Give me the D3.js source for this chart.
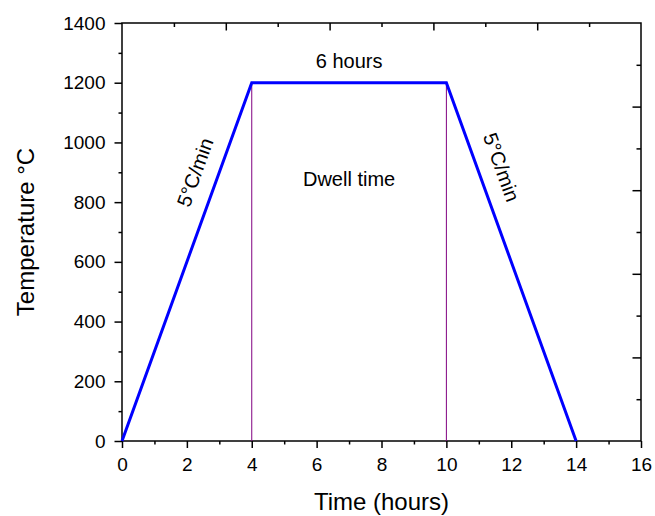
<!DOCTYPE html>
<html>
<head>
<meta charset="utf-8">
<script src="https://cdn.jsdelivr.net/npm/d3@7"></script>
<style>
  html, body { margin: 0; padding: 0; background: #fff; }
  svg { display: block; font-family: Arial, "Liberation Sans", sans-serif; }
</style>
</head>
<body>
<svg id="chart" width="655" height="516"></svg>
<script>
// Firing profile: ramp up, dwell, ramp down
const timeHours = [0, 4, 10, 14];
const temperatureC = [0, 1200, 1200, 0];
const dwellMarkers = [4, 10];
const xTicks = [0, 2, 4, 6, 8, 10, 12, 14, 16];
const yTicks = [0, 200, 400, 600, 800, 1000, 1200, 1400];

const margin = { left: 122, top: 23, right: 14, bottom: 75 };
const W = 655, H = 516;
const FONT = "Arial, 'Liberation Sans', sans-serif";
const svg = d3.select("#chart");

const x = d3.scaleLinear().domain([0, 16]).range([margin.left, W - margin.right]);
const y = d3.scaleLinear().domain([0, 1400]).range([H - margin.bottom, margin.top]);

const x0 = x.range()[0], x1 = x.range()[1];
const y0 = y.range()[0], y1 = y.range()[1];

// Bottom axis: major + minor ticks outward
svg.append("g").attr("transform", `translate(0,${y0})`)
  .call(d3.axisBottom(x).tickValues(d3.range(1, 16, 2)).tickSize(3.5).tickFormat(""))
  .call(g => g.select(".domain").remove());
const bottomMajor = svg.append("g").attr("transform", `translate(0,${y0})`)
  .call(d3.axisBottom(x).tickValues(xTicks).tickSize(7).tickPadding(10).tickFormat(d3.format("d")));
bottomMajor.select(".domain").remove();
bottomMajor.selectAll("text").attr("font-size", 19).attr("fill", "#000").attr("font-family", FONT);

// Left axis
svg.append("g").attr("transform", `translate(${x0},0)`)
  .call(d3.axisLeft(y).tickValues(d3.range(100, 1400, 200)).tickSize(3.5).tickFormat(""))
  .call(g => g.select(".domain").remove());
const leftMajor = svg.append("g").attr("transform", `translate(${x0},0)`)
  .call(d3.axisLeft(y).tickValues(yTicks).tickSize(7.5).tickPadding(9).tickFormat(d3.format("d")));
leftMajor.select(".domain").remove();
leftMajor.selectAll("text").attr("font-size", 19).attr("fill", "#000").attr("font-family", FONT);

// Top and right mirror axes with inward ticks (ten divisions each)
const topScale = d3.scaleLinear().domain([0, 10]).range([x0, x1]);
const rightScale = d3.scaleLinear().domain([0, 10]).range([y0, y1]);
svg.append("g").attr("transform", `translate(0,${y1})`)
  .call(d3.axisBottom(topScale).tickValues(d3.range(1, 10)).tickSizeInner(0).tickSizeOuter(0).tickFormat(""))
  .call(g => g.select(".domain").remove())
  .selectAll(".tick line").attr("y2", d => d % 2 === 0 ? 7.5 : 4);
svg.append("g").attr("transform", `translate(${x1},0)`)
  .call(d3.axisLeft(rightScale).tickValues(d3.range(1, 10)).tickSizeInner(0).tickSizeOuter(0).tickFormat(""))
  .call(g => g.select(".domain").remove())
  .selectAll(".tick line").attr("x2", d => d % 2 === 0 ? -8.5 : -4.5);

svg.selectAll(".tick line").attr("stroke", "#000").attr("stroke-width", 1.5);

// Frame
svg.append("rect")
  .attr("x", x0).attr("y", y1).attr("width", x1 - x0).attr("height", y0 - y1)
  .attr("fill", "none").attr("stroke", "#000").attr("stroke-width", 1.5);

// Dwell boundary markers
svg.selectAll("line.marker").data(dwellMarkers).join("line")
  .attr("class", "marker")
  .attr("x1", d => x(d)).attr("x2", d => x(d))
  .attr("y1", y(1200)).attr("y2", y(0))
  .attr("stroke", "#800080").attr("stroke-width", 1);

// Temperature profile
const line = d3.line().x((d, i) => x(timeHours[i])).y(d => y(d));
svg.append("path").datum(temperatureC)
  .attr("d", line)
  .attr("fill", "none").attr("stroke", "#0000FF").attr("stroke-width", 3)
  .attr("stroke-linejoin", "miter");

// Annotations
const rampAngle = Math.atan2(y(0) - y(1200), x(4) - x(0)) * 180 / Math.PI;
svg.append("text")
  .attr("transform", `translate(${x(2.25)},${y(900)}) rotate(${-rampAngle})`)
  .attr("dy", "0.35em")
  .attr("text-anchor", "middle").attr("font-size", 20).text("5°C/min");
svg.append("text")
  .attr("transform", `translate(${x(11.7)},${y(917)}) rotate(${rampAngle})`)
  .attr("dy", "0.35em")
  .attr("text-anchor", "middle").attr("font-size", 20).text("5°C/min");
svg.append("text")
  .attr("x", x(7)).attr("y", 68)
  .attr("text-anchor", "middle").attr("font-size", 20).text("6 hours");
svg.append("text")
  .attr("x", x(7)).attr("y", 186)
  .attr("text-anchor", "middle").attr("font-size", 20).text("Dwell time");

// Axis titles
svg.append("text")
  .attr("x", (x0 + x1) / 2).attr("y", 510)
  .attr("text-anchor", "middle").attr("font-size", 24).text("Time (hours)");
svg.append("text")
  .attr("transform", `translate(34,${(y0 + y1) / 2}) rotate(-90)`)
  .attr("text-anchor", "middle").attr("font-size", 24).text("Temperature °C");
</script>
</body>
</html>
